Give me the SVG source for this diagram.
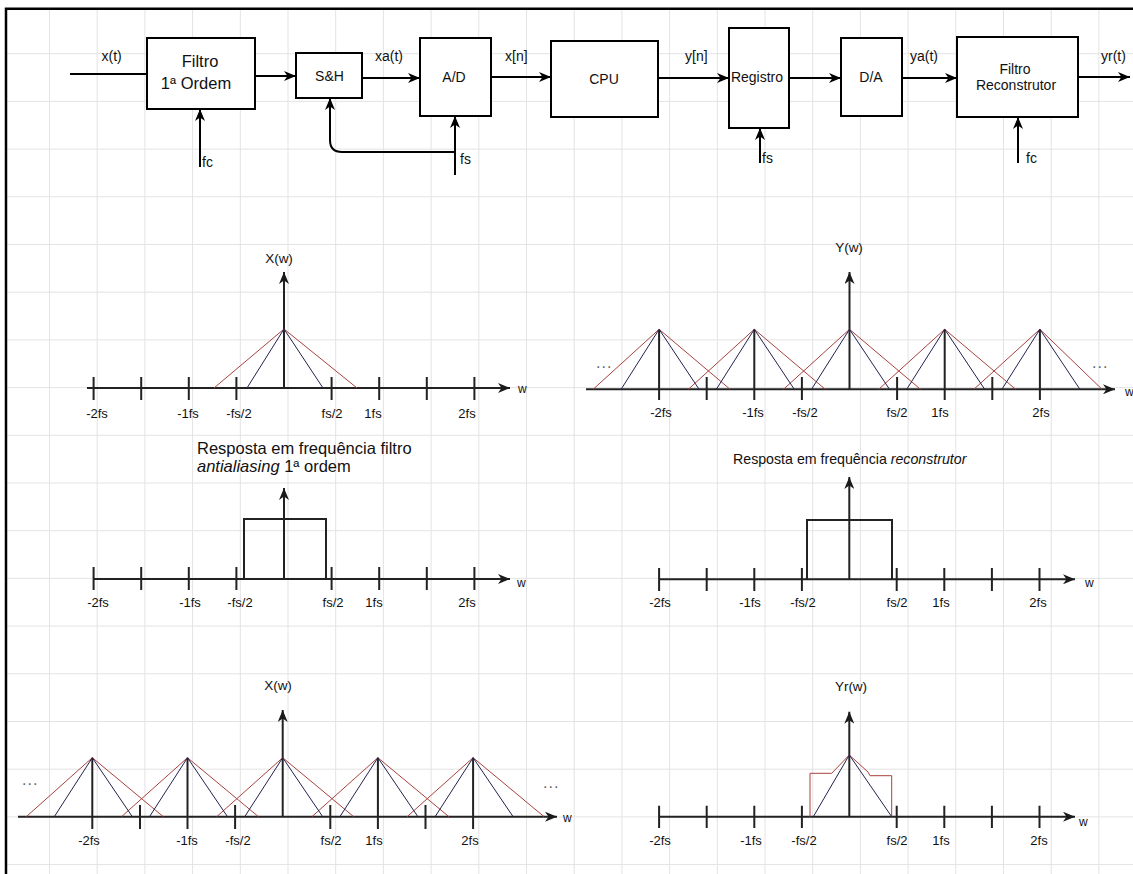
<svg xmlns="http://www.w3.org/2000/svg" width="1133" height="874" viewBox="0 0 1133 874">
<defs>
<marker id="arr" markerUnits="userSpaceOnUse" markerWidth="12" markerHeight="10" viewBox="0 0 12 10" refX="12" refY="5" orient="auto"><path d="M0,0 L12,5 L0,10 L3.5,5 Z" fill="#000"/></marker>
<marker id="arrA" markerUnits="userSpaceOnUse" markerWidth="12" markerHeight="10" viewBox="0 0 12 10" refX="12" refY="5" orient="auto"><path d="M0,0 L12,5 L0,10 L3.5,5 Z" fill="#1a1a1a"/></marker>
</defs>
<style>
text{font-family:"Liberation Sans",Arial,Helvetica,sans-serif;fill:#111}
.box{fill:#fff;stroke:#000;stroke-width:2}
.c{fill:none;stroke:#000;stroke-width:2}
.ax{fill:none;stroke:#222;stroke-width:2}
.rd{fill:none;stroke:#a8423e;stroke-width:1}
.bl{fill:none;stroke:#22224f;stroke-width:1}
.lbl{font-size:14px}
.bt{font-size:14px;text-anchor:middle}
.t{font-size:13px;text-anchor:middle}
.yl{font-size:13.5px;text-anchor:middle}
.w{font-size:12px}
.dots{font-size:16px;fill:#666;letter-spacing:1px}
.grid{fill:none;stroke:#e3e3e3;stroke-width:1}
</style>
<rect x="0" y="0" width="1133" height="874" fill="#fff"/>
<path class="grid" d="M49.5,9V874M97.2,9V874M144.9,9V874M192.6,9V874M240.3,9V874M288,9V874M335.7,9V874M383.4,9V874M431.1,9V874M478.8,9V874M526.5,9V874M574.2,9V874M621.9,9V874M669.6,9V874M717.3,9V874M765,9V874M812.7,9V874M860.4,9V874M908.1,9V874M955.8,9V874M1003.5,9V874M1051.2,9V874M1098.9,9V874M7,53.7H1133M7,101.4H1133M7,149.1H1133M7,196.8H1133M7,244.5H1133M7,292.2H1133M7,339.9H1133M7,387.6H1133M7,435.3H1133M7,483H1133M7,530.7H1133M7,578.4H1133M7,626.1H1133M7,673.8H1133M7,721.5H1133M7,769.2H1133M7,816.9H1133M7,864.6H1133"/>
<path d="M6,874V8.7H1133" fill="none" stroke="#000" stroke-width="2.5"/>

<g id="connectors">
<path class="c" d="M70,74H147"/>
<path class="c" d="M255,76H296" marker-end="url(#arr)"/>
<path class="c" d="M362,78H420" marker-end="url(#arr)"/>
<path class="c" d="M491,77H551" marker-end="url(#arr)"/>
<path class="c" d="M658,78H729" marker-end="url(#arr)"/>
<path class="c" d="M789,78H841" marker-end="url(#arr)"/>
<path class="c" d="M902,78H957" marker-end="url(#arr)"/>
<path class="c" d="M1078,77H1130" marker-end="url(#arr)"/>
<path class="c" d="M200,167V109" marker-end="url(#arr)"/>
<path class="c" d="M455,175V116" marker-end="url(#arr)"/>
<path class="c" d="M455,152H342Q330,152 330,140V98" marker-end="url(#arr)"/>
<path class="c" d="M760,163V128" marker-end="url(#arr)"/>
<path class="c" d="M1018,163V117" marker-end="url(#arr)"/>
<text class="lbl" x="101.5" y="61">x(t)</text>
<text class="lbl" x="375" y="61">xa(t)</text>
<text class="lbl" x="505" y="61">x[n]</text>
<text class="lbl" x="685" y="61">y[n]</text>
<text class="lbl" x="910" y="61">ya(t)</text>
<text class="lbl" x="1101" y="61">yr(t)</text>
<text class="lbl" x="202" y="167">fc</text>
<text class="lbl" x="460" y="164">fs</text>
<text class="lbl" x="762" y="163">fs</text>
<text class="lbl" x="1026" y="163">fc</text>
</g>

<g id="filtro1">
<rect class="box" x="147" y="38" width="108" height="71"/>
<text x="200" y="67" font-size="16.5" text-anchor="middle">Filtro</text>
<text x="196" y="89" font-size="16.5" text-anchor="middle">1ª Ordem</text>
</g>
<g id="sh">
<rect class="box" x="296" y="53" width="66" height="45"/>
<text class="bt" x="329.5" y="81">S&amp;H</text>
</g>
<g id="ad">
<rect class="box" x="420" y="38" width="71" height="78"/>
<text class="bt" x="454" y="82">A/D</text>
</g>
<g id="cpu">
<rect class="box" x="551" y="41" width="107" height="76"/>
<text class="bt" x="604" y="84">CPU</text>
</g>
<g id="registro">
<rect class="box" x="729" y="28" width="60" height="100"/>
<text class="bt" x="757" y="82">Registro</text>
</g>
<g id="da">
<rect class="box" x="841" y="38" width="61" height="78"/>
<text class="bt" x="871" y="82">D/A</text>
</g>
<g id="filtroRec">
<rect class="box" x="957" y="37" width="121" height="80"/>
<text class="bt" x="1015" y="74">Filtro</text>
<text class="bt" x="1016" y="90">Reconstrutor</text>
</g>

<g id="plot-x-entrada">
<path class="ax" d="M87,388H510" marker-end="url(#arrA)"/>
<path class="ax" d="M284,388V272" marker-end="url(#arrA)"/>
<path class="ax" d="M93.6,377V400M141.2,377V400M188.8,377V400M236.4,377V400M331.6,377V400M379.2,377V400M426.8,377V400M474.4,377V400"/>
<polyline class="rd" points="214,388 284,329 357,388"/>
<polyline class="bl" points="247,388 284,329 323,388"/>
<text class="yl" x="279" y="263">X(w)</text>
<text class="w" x="518" y="393">w</text>
<text class="t" x="97" y="418">-2fs</text>
<text class="t" x="188" y="418">-1fs</text>
<text class="t" x="239" y="418">-fs/2</text>
<text class="t" x="332" y="418">fs/2</text>
<text class="t" x="373" y="418">1fs</text>
<text class="t" x="467" y="418">2fs</text>
</g>

<g id="plot-antialiasing">
<text x="197" y="454" font-size="16.5">Resposta em frequência filtro</text>
<text x="197" y="472" font-size="16.5"><tspan font-style="italic">antialiasing</tspan> 1ª ordem</text>
<path class="ax" d="M93.6,579H510" marker-end="url(#arrA)"/>
<path class="ax" d="M284,579V488" marker-end="url(#arrA)"/>
<path class="ax" d="M93.6,567V590M141.2,567V590M188.8,567V590M236.4,567V590M331.6,567V590M379.2,567V590M426.8,567V590M474.4,567V590"/>
<polyline class="ax" points="244,579 244,519 326,519 326,579"/>
<text class="w" x="517" y="587">w</text>
<text class="t" x="98" y="607">-2fs</text>
<text class="t" x="190" y="607">-1fs</text>
<text class="t" x="240" y="607">-fs/2</text>
<text class="t" x="333" y="607">fs/2</text>
<text class="t" x="374" y="607">1fs</text>
<text class="t" x="467" y="607">2fs</text>
</g>

<g id="plot-y-amostrado">
<path class="ax" d="M586,389.3H1115" marker-end="url(#arrA)"/>
<path class="ax" d="M849.5,389.3V272" marker-end="url(#arrA)"/>
<path class="ax" d="M659.1,329.3V400M754.3,329.3V400M944.7,329.3V400M1039.9,329.3V400M706.7,377V400M801.9,377V400M897.1,377V400M992.3,377V400"/>
<polyline class="rd" points="593.1,389.3 659.1,329.3 730.1,389.3"/>
<polyline class="rd" points="688.3,389.3 754.3,329.3 825.3,389.3"/>
<polyline class="rd" points="783.5,389.3 849.5,329.3 920.5,389.3"/>
<polyline class="rd" points="878.7,389.3 944.7,329.3 1015.7,389.3"/>
<polyline class="rd" points="973.9,389.3 1039.9,329.3 1102,389.3"/>
<polyline class="bl" points="621.1,389.3 659.1,329.3 699.1,389.3"/>
<polyline class="bl" points="716.3,389.3 754.3,329.3 794.3,389.3"/>
<polyline class="bl" points="811.5,389.3 849.5,329.3 889.5,389.3"/>
<polyline class="bl" points="906.7,389.3 944.7,329.3 984.7,389.3"/>
<polyline class="bl" points="1001.9,389.3 1039.9,329.3 1079.9,389.3"/>
<text class="dots" x="596" y="368">...</text>
<text class="dots" x="1092" y="368">...</text>
<text class="yl" x="849" y="252">Y(w)</text>
<text class="w" x="1125" y="396">w</text>
<text class="t" x="661" y="417">-2fs</text>
<text class="t" x="753" y="417">-1fs</text>
<text class="t" x="805" y="417">-fs/2</text>
<text class="t" x="897" y="417">fs/2</text>
<text class="t" x="940" y="417">1fs</text>
<text class="t" x="1041" y="417">2fs</text>
</g>

<g id="plot-reconstrutor">
<text x="733" y="464" font-size="14.2">Resposta em frequência <tspan font-style="italic">reconstrutor</tspan></text>
<path class="ax" d="M659,579.3H1075" marker-end="url(#arrA)"/>
<path class="ax" d="M849.3,579.3V477" marker-end="url(#arrA)"/>
<path class="ax" d="M659.1,568V591M706.7,568V591M754.3,568V591M801.9,568V591M896.7,568V591M944.3,568V591M991.9,568V591M1039.5,568V591"/>
<polyline class="ax" points="807,579.3 807,520 892,520 892,579.3"/>
<text class="w" x="1085" y="587">w</text>
<text class="t" x="660" y="607">-2fs</text>
<text class="t" x="750" y="607">-1fs</text>
<text class="t" x="803" y="607">-fs/2</text>
<text class="t" x="897" y="607">fs/2</text>
<text class="t" x="941" y="607">1fs</text>
<text class="t" x="1038" y="607">2fs</text>
</g>

<g id="plot-x-amostrado">
<path class="ax" d="M18,816.7H557" marker-end="url(#arrA)"/>
<path class="ax" d="M282.7,816.7V710" marker-end="url(#arrA)"/>
<path class="ax" d="M92.3,757.7V829M187.5,757.7V829M377.9,757.7V829M473.1,757.7V829M140,805V829M235.1,805V829M330.3,805V829M425.5,805V829"/>
<polyline class="rd" points="26.3,816.7 92.3,757.7 163.3,816.7"/>
<polyline class="rd" points="121.5,816.7 187.5,757.7 258.5,816.7"/>
<polyline class="rd" points="216.7,816.7 282.7,757.7 353.7,816.7"/>
<polyline class="rd" points="311.9,816.7 377.9,757.7 448.9,816.7"/>
<polyline class="rd" points="407.1,816.7 473.1,757.7 544.1,816.7"/>
<polyline class="bl" points="54.3,816.7 92.3,757.7 132.3,816.7"/>
<polyline class="bl" points="149.5,816.7 187.5,757.7 227.5,816.7"/>
<polyline class="bl" points="244.7,816.7 282.7,757.7 322.7,816.7"/>
<polyline class="bl" points="339.9,816.7 377.9,757.7 417.9,816.7"/>
<polyline class="bl" points="435.1,816.7 473.1,757.7 513.1,816.7"/>
<text class="dots" x="22" y="785">...</text>
<text class="dots" x="543" y="788">...</text>
<text class="yl" x="278" y="690">X(w)</text>
<text class="w" x="563" y="822">w</text>
<text class="t" x="89" y="845">-2fs</text>
<text class="t" x="187" y="845">-1fs</text>
<text class="t" x="238" y="845">-fs/2</text>
<text class="t" x="331" y="845">fs/2</text>
<text class="t" x="374" y="845">1fs</text>
<text class="t" x="470" y="845">2fs</text>
</g>

<g id="plot-yr">
<path class="ax" d="M659,816.7H1075" marker-end="url(#arrA)"/>
<path class="ax" d="M849.3,816.7V711.7" marker-end="url(#arrA)"/>
<path class="ax" d="M659.1,805.7V828M706.7,805.7V828M754.3,805.7V828M801.9,805.7V828M896.7,805.7V828M944.3,805.7V828M991.9,805.7V828M1039.5,805.7V828"/>
<polyline class="rd" points="810,816.7 810,773.3 831.7,773.3 849.3,755 868,772 870,775.7 891.7,775.7 891.7,816.7"/>
<polyline class="bl" points="813.3,816.7 849.3,755 891.7,816.7"/>
<text class="yl" x="851" y="691">Yr(w)</text>
<text class="w" x="1079" y="826">w</text>
<text class="t" x="660" y="845">-2fs</text>
<text class="t" x="751" y="845">-1fs</text>
<text class="t" x="804" y="845">-fs/2</text>
<text class="t" x="897" y="845">fs/2</text>
<text class="t" x="941" y="845">1fs</text>
<text class="t" x="1039" y="845">2fs</text>
</g>
</svg>
